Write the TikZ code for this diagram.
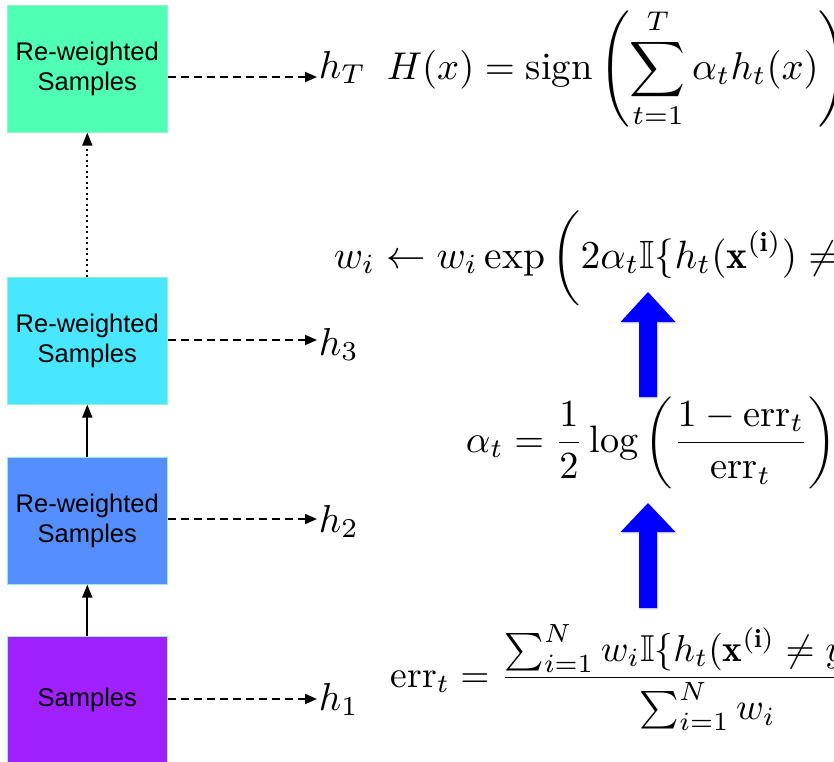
\documentclass[tikz,border=0pt]{standalone}
\usepackage{amsmath,amssymb}
\usepackage{fontspec}
\newfontfamily\boxfont{Liberation Sans}
\usetikzlibrary{arrows.meta,shadows}
\definecolor{cT}{RGB}{78,255,180}
\definecolor{cthree}{RGB}{72,230,255}
\definecolor{ctwo}{RGB}{84,142,255}
\definecolor{cone}{RGB}{160,32,255}
\definecolor{cedge}{RGB}{150,240,200}
\begin{document}
\begin{tikzpicture}[x=1pt,y=-1pt,
  sbox/.style={draw=cedge, line width=0.6pt, minimum width=160pt, minimum height=127pt,
    inner sep=0pt, font=\boxfont\fontsize{25.5}{29.5}\selectfont, align=center, anchor=north west},
  dasharrow/.style={line width=1.8pt, dash pattern=on 8pt off 5pt, -{Triangle[length=12pt,width=10pt]}},
  solidarrow/.style={line width=1.8pt, -{Triangle[length=13pt,width=10pt]}},
  dotarrow/.style={line width=1.8pt, dash pattern=on 2pt off 3.5pt, -{Triangle[length=13pt,width=10pt]}},
  hlab/.style={anchor=base west, inner sep=0pt, scale=3.9},
  formula/.style={anchor=base west, inner sep=0pt, scale=3.9},
  bluearrow/.style={fill=blue, drop shadow={opacity=0.25, shadow xshift=1pt, shadow yshift=-1.5pt}}]
\clip (0,0) rectangle (834,761);
\useasboundingbox (0,0) rectangle (834,761);
% boxes
\node[sbox, fill=cT] (b4) at (7,5) {Re-weighted\\Samples};
\node[sbox, fill=cthree] (b3) at (7,277) {Re-weighted\\Samples};
\node[sbox, fill=ctwo] (b2) at (7,457) {Re-weighted\\Samples};
\node[sbox, fill=cone] (b1) at (7,636) {Samples};
% vertical connectors
\draw[solidarrow] (b1.north) -- (b2.south);
\draw[solidarrow] (b2.north) -- (b3.south);
\draw[dotarrow] (b3.north) -- (b4.south);
% h labels
\node[hlab] (hT) at (318,78) {$h_T$};
\node[hlab] (h3) at (318,355) {$h_3$};
\node[hlab] (h2) at (318,532) {$h_2$};
\node[hlab] (h1) at (318,710) {$h_1$};
\coordinate (eT) at (317,77);
\coordinate (e3) at (317,340);
\coordinate (e2) at (317,519);
\coordinate (e1) at (317,699);
\draw[dasharrow] (b4.east |- eT) -- (eT);
\draw[dasharrow] (b3.east |- e3) -- (e3);
\draw[dasharrow] (b2.east |- e2) -- (e2);
\draw[dasharrow] (b1.east |- e1) -- (e1);
% formulas
\node[formula, scale=3.87/3.9] (fH) at (386,79) {$\displaystyle H(x) = \operatorname{sign}\left(\sum_{t=1}^{T}\alpha_t h_t(x)\right)$};
\node[formula, scale=3.95/3.9] (fw) at (333,268) {$\displaystyle w_i \leftarrow w_i \exp\bigg(2\alpha_t \mathbb{I}\{h_t(\mathbf{x}^{(\mathbf{i})}) \neq y^{(\mathbf{i})}\}\bigg)$};
\node[formula, scale=3.83/3.9] (fa) at (465,452) {$\displaystyle \alpha_t = \frac{1}{2}\log\left(\frac{1-\mathrm{err}_t}{\mathrm{err}_t}\right)$};
\node[formula, scale=3.75/3.9] (fe) at (390,687) {$\displaystyle \mathrm{err}_t = \frac{\sum_{i=1}^{N} w_i \mathbb{I}\{h_t(\mathbf{x}^{(\mathbf{i})} \neq y^{(\mathbf{i})})\}}{\sum_{i=1}^{N} w_i}$};
% blue arrows
\fill[bluearrow] (639,397) -- (639,322) -- (620.5,322) -- (648,292) -- (675.5,322) -- (657,322) -- (657,397) -- cycle;
\fill[bluearrow] (639,608) -- (639,532) -- (620.5,532) -- (648,503) -- (675.5,532) -- (657,532) -- (657,608) -- cycle;
\end{tikzpicture}
\end{document}
